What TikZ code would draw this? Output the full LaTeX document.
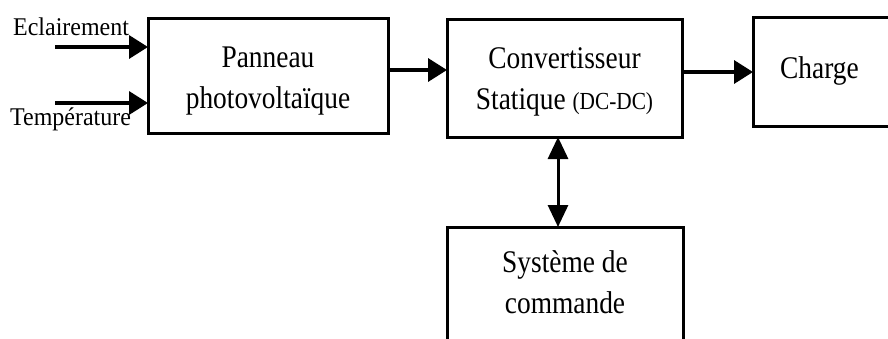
\documentclass[tikz,border=0pt]{standalone}
\usepackage{fontspec}
\setmainfont{Liberation Serif}
\newfontfamily\boxfont{Liberation Serif}[FakeStretch=0.87]
\newfontfamily\labfont{Liberation Serif}[FakeStretch=0.94]
\usetikzlibrary{arrows.meta}
\begin{document}
\begin{tikzpicture}[x=1pt,y=-1pt,
  block/.style={draw=black,line width=3pt,fill=white,inner sep=0pt,outer sep=0pt},
  btext/.style={anchor=base,inner sep=0pt,align=center,
    font=\boxfont\fontsize{31.5}{40.5}\selectfont},
  flow/.style={line width=3.5pt,-{Triangle[length=19pt,width=23pt]}},
  link/.style={line width=3pt,{Triangle[length=22pt,width=20pt]}-{Triangle[length=22pt,width=20pt]}},
  lab/.style={anchor=base west,inner sep=0pt,font=\labfont\fontsize{25.5}{30}\selectfont}]
  \useasboundingbox (0,0) rectangle (888,338);
  \clip (0,0) rectangle (888,338);

  % blocks
  \node[block,minimum width=240pt,minimum height=115pt] (pv) at (268,75.5) {};
  \node[block,minimum width=235pt,minimum height=118pt] (cs) at (564.5,78) {};
  \node[block,minimum width=220pt,minimum height=109pt] (ch) at (863,71.5) {};
  \node[block,minimum width=236pt,minimum height=180pt] (sc) at (565,317) {};

  % block texts (anchored on the baseline of their last line)
  \node[btext] (pvt) at (268,108) {Panneau\\photovoltaïque};
  \node[btext] (cst) at (564.5,109)
    {Convertisseur\\Statique {\fontsize{24.5}{40.5}\selectfont(DC-DC)}};
  \node[btext,anchor=base west] (cht) at (780,78) {Charge};
  \node[btext] (sct) at (565,313) {Système de\\commande};

  % inputs of the panel
  \coordinate (e0) at (55,47);
  \coordinate (t0) at (55,103);
  \node[lab] (el) at (13,35) {Eclairement};
  \node[lab] (tp) at (10,125) {Température};
  \draw[flow] (e0) -- (e0 -| pv.west);
  \draw[flow] (t0) -- (t0 -| pv.west);

  % power path
  \coordinate (p1) at (388,70);
  \draw[flow] (p1 -| pv.east) -- (p1 -| cs.west);
  \coordinate (p2) at (682,72);
  \draw[flow] (p2 -| cs.east) -- (p2 -| ch.west);

  % control loop
  \coordinate (c1) at (558,180);
  \draw[link] (c1 |- cs.south) -- (c1 |- sc.north);
\end{tikzpicture}
\end{document}
